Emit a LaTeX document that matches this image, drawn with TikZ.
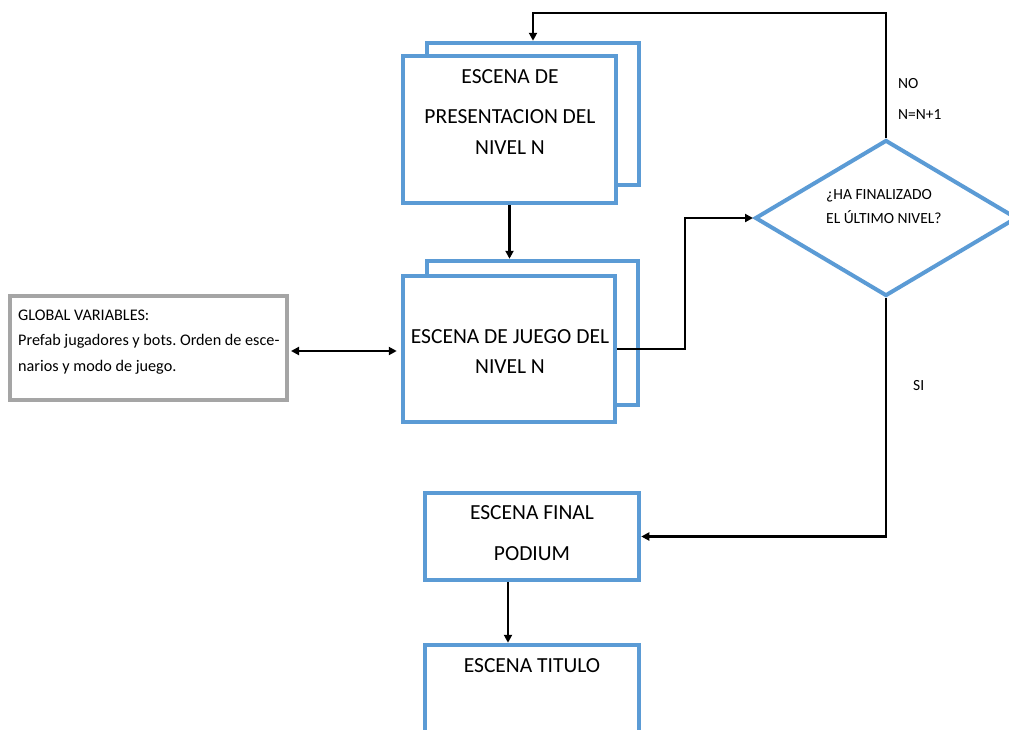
\documentclass[tikz,border=0pt]{standalone}
\usepackage{fontspec}
\setmainfont{Carlito}
\usetikzlibrary{arrows.meta,shapes.geometric}
\definecolor{boxblue}{HTML}{5B9BD5}
\definecolor{boxgray}{HTML}{A5A5A5}
\frenchspacing
\begin{document}
\begin{tikzpicture}[x=1pt,y=-1pt,
  scenebox/.style={draw=boxblue,line width=4.5pt,fill=white,rectangle,inner sep=0pt},
  varbox/.style={draw=boxgray,line width=4pt,fill=white,rectangle,inner sep=0pt},
  bigtxt/.style={font=\fontsize{21.5}{25}\selectfont,inner sep=0pt},
  smalltxt/.style={font=\fontsize{15.5}{18}\selectfont,inner sep=0pt},
  vartxt/.style={font=\fontsize{16.2}{19}\selectfont,inner sep=0pt,anchor=west},
  flow/.style={line width=2.2pt,-{Triangle[length=8pt,width=8pt]}},
  biflow/.style={line width=2.2pt,{Triangle[length=8pt,width=8pt]}-{Triangle[length=8pt,width=8pt]}}]
\useasboundingbox (0,0) rectangle (1009,729);
\clip (0,0) rectangle (1009,729);

% presentation scene (stacked pages)
\node[scenebox,minimum width=212pt,minimum height=142pt] (presBack) at (533,114) {};
\node[scenebox,minimum width=213pt,minimum height=147pt] (presFront) at (509.5,129.5) {};
\node[bigtxt] (presL1) at (510,77) {ESCENA DE};
\node[bigtxt] (presL2) at (510,117) {PRESENTACION DEL};
\node[bigtxt] (presL3) at (510,148) {NIVEL N};

% game scene (stacked pages)
\node[scenebox,minimum width=211pt,minimum height=144pt] (juegoBack) at (532.5,333) {};
\node[scenebox,minimum width=212pt,minimum height=146pt] (juegoFront) at (509,349) {};
\node[bigtxt] (juegoL1) at (510,337) {ESCENA DE JUEGO DEL};
\node[bigtxt] (juegoL2) at (510,367) {NIVEL N};

% final and title scenes
\node[scenebox,minimum width=214pt,minimum height=87pt] (final) at (532,536.5) {};
\node[bigtxt] (finalL1) at (532,513) {ESCENA FINAL};
\node[bigtxt] (finalL2) at (532,554) {PODIUM};
\node[scenebox,minimum width=214pt,minimum height=120pt] (titulo) at (532,705) {};
\node[bigtxt] (tituloL1) at (532,666) {ESCENA TITULO};

% decision
\node[draw=boxblue,line width=4pt,fill=white,diamond,inner sep=0pt,
      minimum width=262pt,minimum height=156pt] (dia) at (886,218) {};
\node[smalltxt,anchor=west] (diaL1) at (826,196) {¿HA FINALIZADO};
\node[smalltxt,anchor=west] (diaL2) at (826,217) {EL ÚLTIMO NIVEL?};

% global variables
\node[varbox,minimum width=277pt,minimum height=104pt] (glob) at (148.5,348) {};
\node[vartxt] (globL1) at (18,315) {GLOBAL VARIABLES:};
\node[vartxt] (globL2) at (18,341) {Prefab jugadores y bots. Orden de esce-};
\node[vartxt] (globL3) at (18,367) {narios y modo de juego.};

% branch labels
\node[smalltxt,anchor=west] (noL) at (898,84) {NO};
\node[smalltxt,anchor=west] (incL) at (898,115) {N=N+1};
\node[smalltxt,anchor=west] (siL) at (913,386) {SI};

% connectors
\draw[flow] (presFront.south) -- (presFront.south |- juegoBack.north);
\draw[flow] (juegoFront.east) -- ++(68,0) |- (dia.west);
\draw[flow] (dia.north) |- (presBack.north |- 0,13) -- (presBack.north);
\draw[flow] (dia.south) |- (final.east);
\draw[flow] (final.south -| 508,0) -- (titulo.north -| 508,0);
\draw[biflow,shorten <=2pt,shorten >=4pt] (glob.east |- 0,351) -- (juegoFront.west |- 0,351);
\end{tikzpicture}
\end{document}
